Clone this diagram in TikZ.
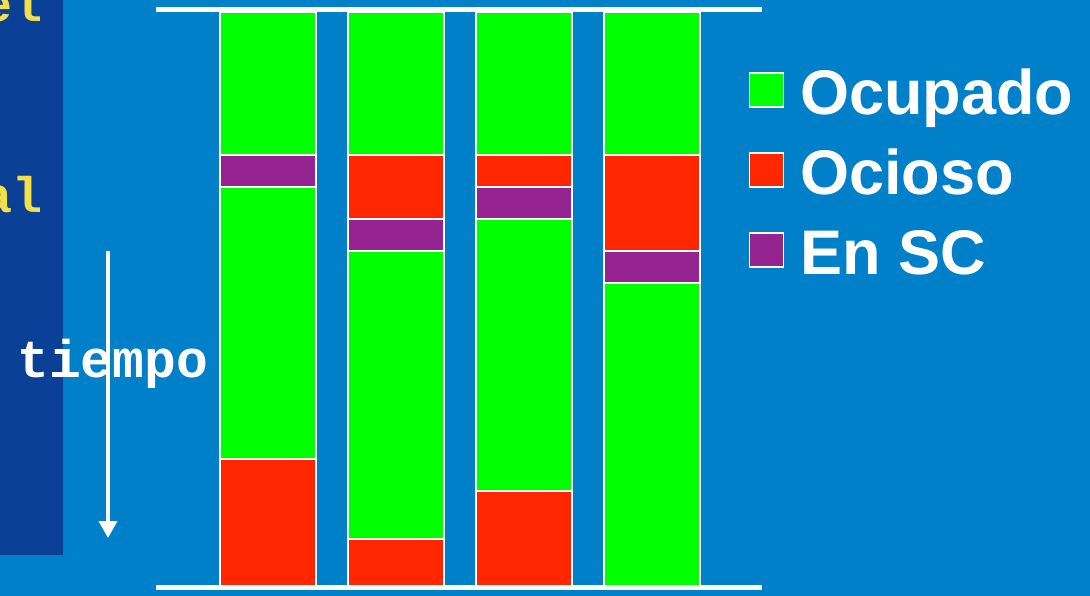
\documentclass[tikz,border=0pt]{standalone}
\usepackage{fontspec}
\setmainfont{Liberation Sans}
\newfontfamily\monofont{Liberation Mono}
\usetikzlibrary{arrows.meta,positioning}
\definecolor{fondo}{HTML}{0080C8}
\definecolor{panel}{HTML}{0A4096}
\definecolor{amarillo}{HTML}{F5E04A}
\definecolor{verde}{HTML}{00FF00}
\definecolor{rojo}{HTML}{FF2600}
\definecolor{morado}{HTML}{952491}
\begin{document}
\begin{tikzpicture}[x=1pt, y=-1pt, >=Triangle,
    seg/.style={draw=white, line width=2pt},
    cuadro/.style={draw=white, line width=1.5pt, minimum size=34pt, inner sep=0pt},
    etiqueta/.style={text=white, font=\bfseries\fontsize{63}{63}\selectfont, inner sep=0pt, anchor=base west},
    mono/.style={font=\monofont\bfseries\fontsize{50}{50}\selectfont, inner sep=0pt}]
    % Fondo
    \useasboundingbox (0,0) rectangle (1090,596);
    \fill[fondo] (0,0) rectangle (1090,596);
    \fill[panel] (0,0) rectangle (63,555);

    % Texto cortado del panel
    \begin{scope}
        \clip (0,0) rectangle (63,555);
        \node[mono, text=amarillo, anchor=base east] (el) at (43,22) {el};
        \node[mono, text=amarillo, anchor=base east] (al) at (43,213) {al};
    \end{scope}

    % Eje del tiempo
    \coordinate (t0) at (108,251);
    \coordinate (t1) at (108,538);
    \draw[white, line width=4pt, -{Triangle[width=18pt,length=17pt]}] (t0) -- (t1);
    \node[mono, text=white, anchor=base west, font=\monofont\bfseries\fontsize{53}{53}\selectfont] (tiempo) at (17,377) {tiempo};

    % Lineas horizontales
    \draw[white, line width=5pt] (156,10) -- (762,10);
    \draw[white, line width=5pt] (156,587) -- (762,587);

    % Columnas
    \foreach \xa/\ya/\yb/\c in {
        220/12/155/verde, 220/155/187/morado, 220/187/459/verde, 220/459/586/rojo,
        348/12/155/verde, 348/155/219/rojo, 348/219/251/morado, 348/251/539/verde, 348/539/586/rojo,
        476/12/155/verde, 476/155/187/rojo, 476/187/219/morado, 476/219/491/verde, 476/491/586/rojo,
        604/12/155/verde, 604/155/251/rojo, 604/251/283/morado, 604/283/586/verde} {
        \draw[seg, fill=\c] (\xa,\ya) rectangle (\xa+96,\yb);
    }

    % Leyenda
    \node[cuadro, fill=verde] (cOcupado) at (766.5,90) {};
    \node[cuadro, fill=rojo] (cOcioso) at (766.5,170) {};
    \node[cuadro, fill=morado] (cSC) at (766.5,250) {};
    \node[etiqueta] (lOcupado) at (800,115) {Ocupado};
    \node[etiqueta] (lOcioso) at (800,195) {Ocioso};
    \node[etiqueta] (lSC) at (800,274) {En SC};
\end{tikzpicture}
\end{document}
